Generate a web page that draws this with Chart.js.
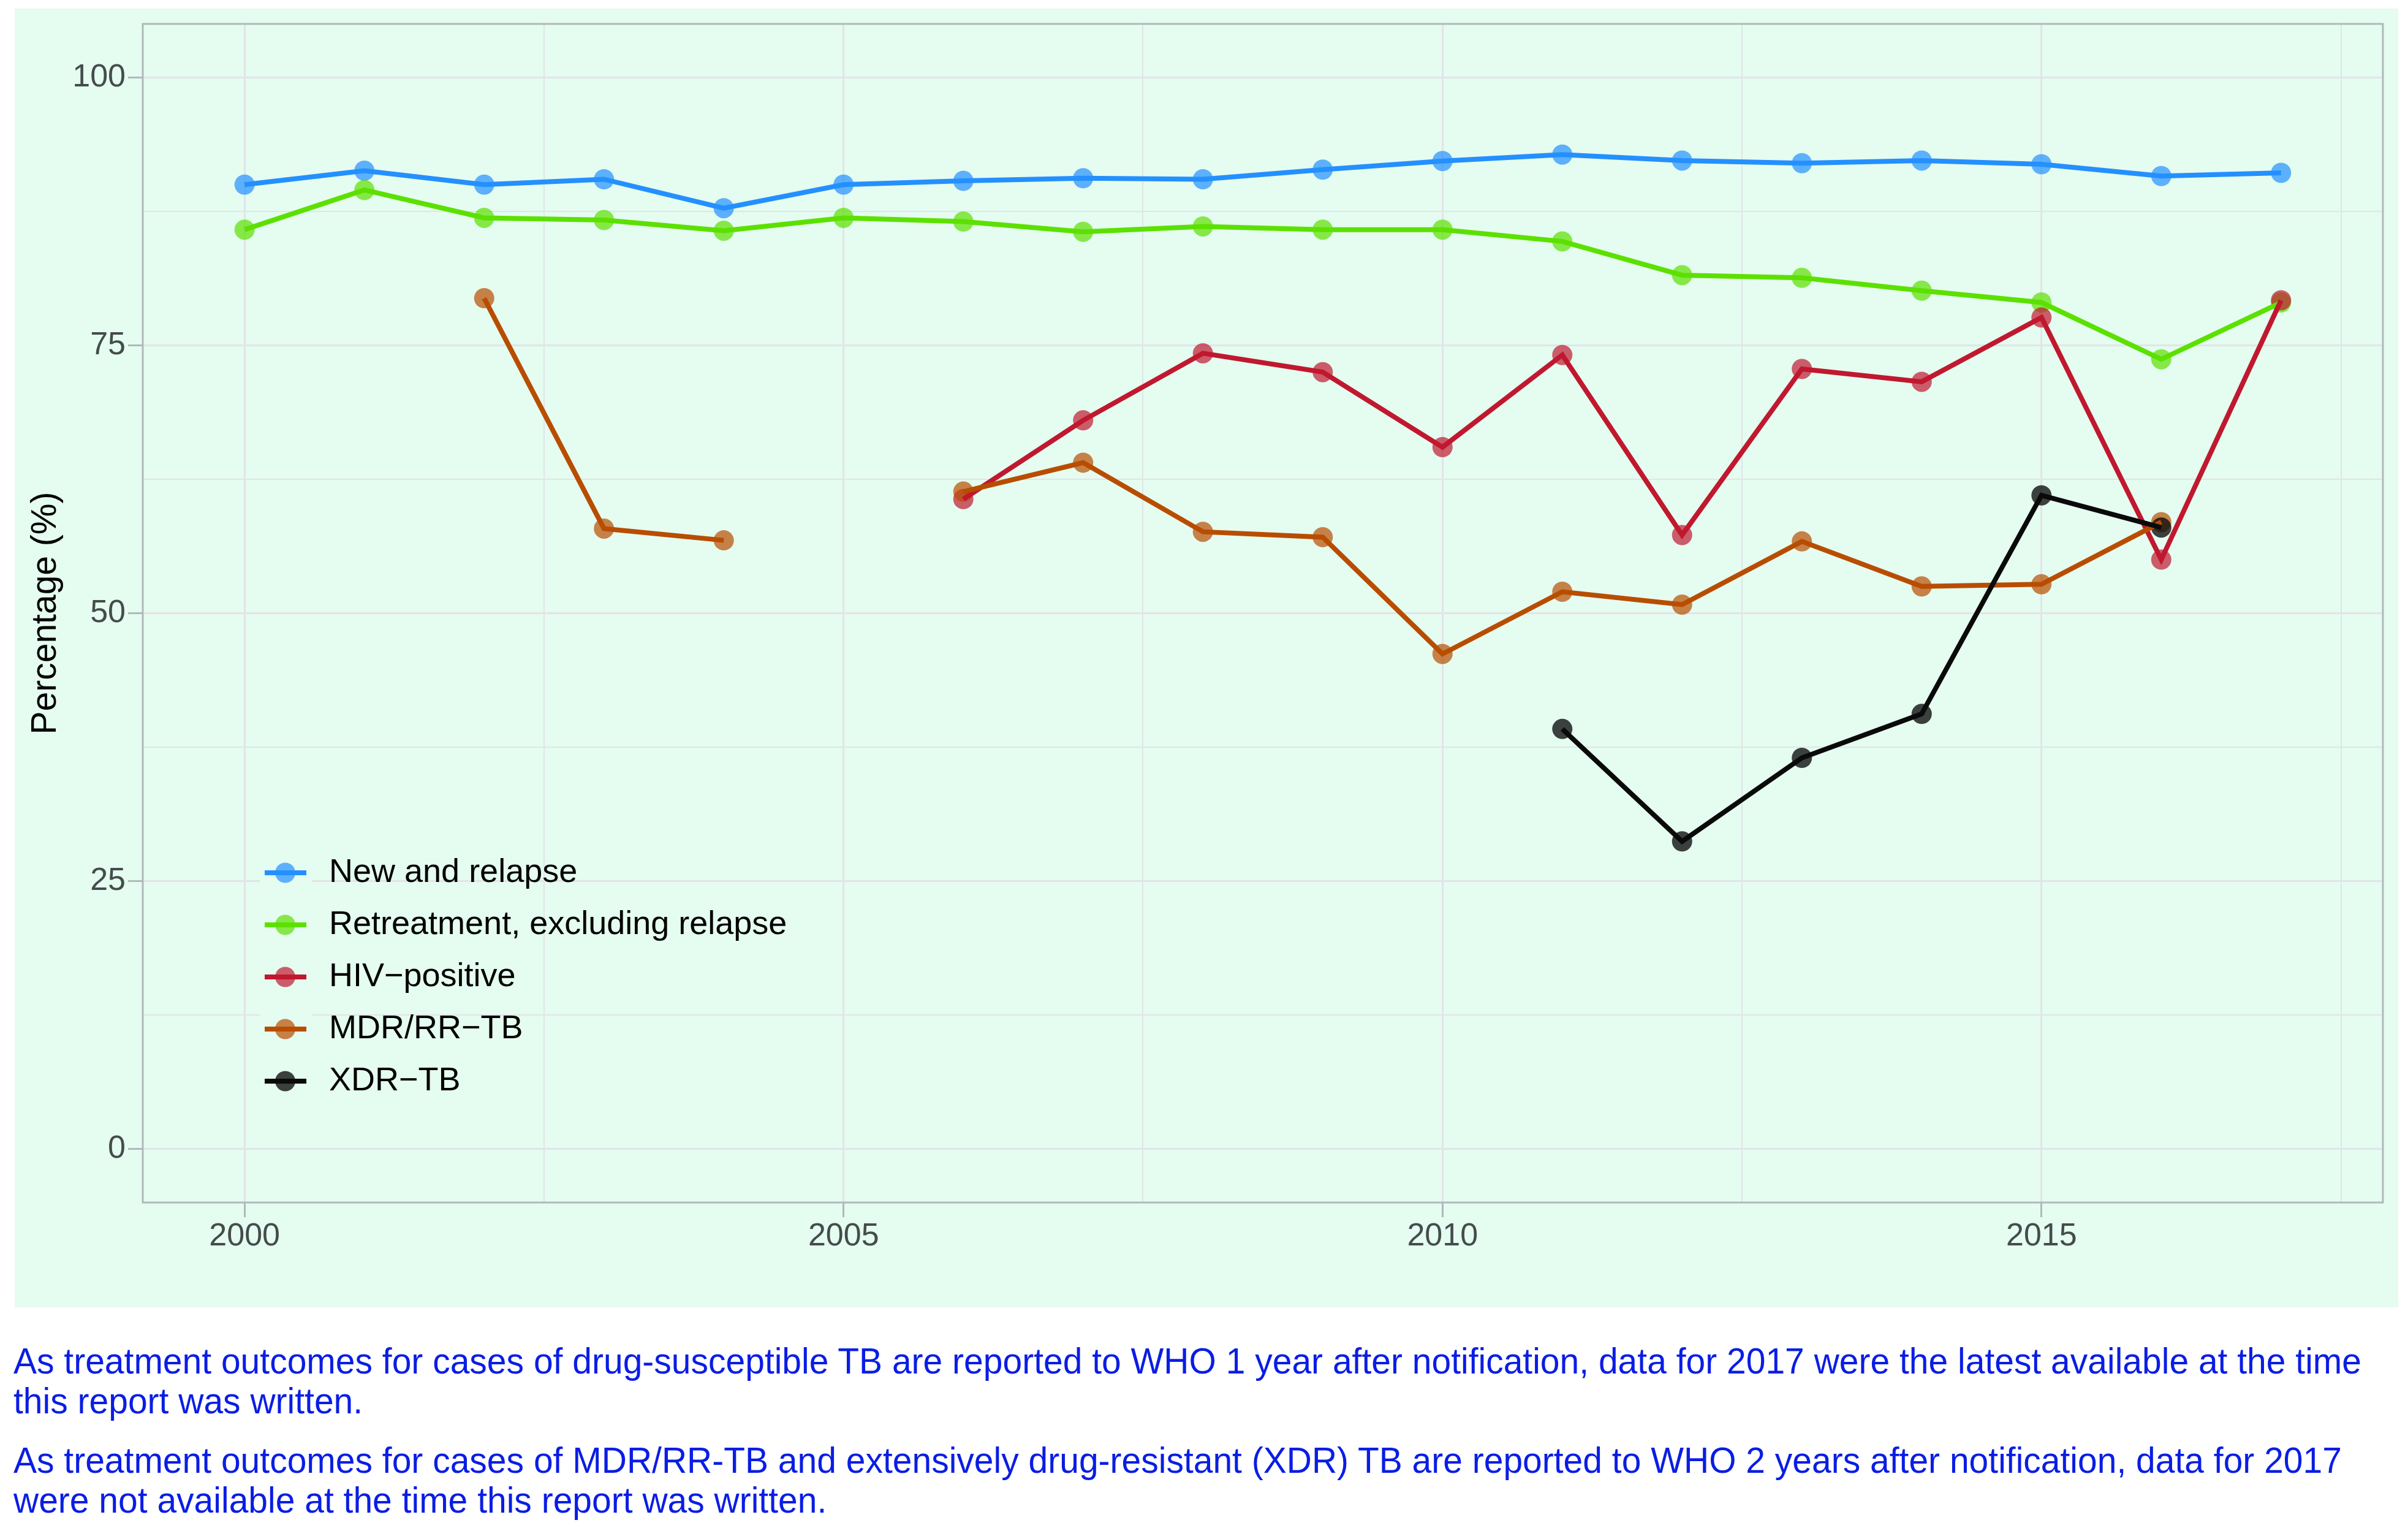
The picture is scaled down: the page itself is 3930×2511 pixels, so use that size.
<!DOCTYPE html>
<html>
<head>
<meta charset="utf-8">
<script src="https://cdn.jsdelivr.net/npm/chart.js@4/dist/chart.umd.min.js"></script>
<style>
  html, body { margin: 0; padding: 0; background: #ffffff; }
  #wrap { position: relative; width: 3930px; height: 2511px; }
  #chart { position: absolute; left: 0; top: 0; }
  #notes {
    position: absolute; left: 22px; top: 2189px;
    font-family: "Liberation Sans", Arial, sans-serif;
    font-size: 59px; line-height: 65px; color: #0a1de4; white-space: nowrap;
  }
  #notes p { margin: 0 0 32px 0; }
  #notes span { display: inline-block; transform-origin: 0 50%; }
</style>
</head>
<body>
<div id="wrap">
  <canvas id="chart" width="3930" height="2150"></canvas>
  <div id="notes">
    <p><span>As treatment outcomes for cases of drug-susceptible TB are reported to WHO 1 year after notification, data for 2017 were the latest available at the time</span><br><span>this report was written.</span></p>
    <p><span>As treatment outcomes for cases of MDR/RR-TB and extensively drug-resistant (XDR) TB are reported to WHO 2 years after notification, data for 2017</span><br><span>were not available at the time this report was written.</span></p>
  </div>
</div>
<script>
// données
const years = [2000, 2001, 2002, 2003, 2004, 2005, 2006, 2007, 2008, 2009, 2010, 2011, 2012, 2013, 2014, 2015, 2016, 2017];
const newRelapse = [90.0, 91.3, 90.0, 90.5, 87.8, 90.0, 90.35, 90.6, 90.5, 91.4, 92.2, 92.8, 92.25, 92.0, 92.25, 91.9, 90.8, 91.1];
const retreatment = [85.8, 89.5, 86.9, 86.7, 85.7, 86.9, 86.55, 85.6, 86.1, 85.8, 85.8, 84.7, 81.55, 81.3, 80.1, 79.0, 73.7, 79.0];
const hivPositive = [null, null, null, null, null, null, 60.65, 68.0, 74.26, 72.5, 65.5, 74.1, 57.3, 72.8, 71.6, 77.6, 55.0, 79.2];
const mdrRrTb = [null, null, 79.4, 57.9, 56.8, null, 61.35, 64.05, 57.6, 57.1, 46.2, 52.0, 50.8, 56.7, 52.5, 52.7, 58.5, null];
const xdrTb = [null, null, null, null, null, null, null, null, null, null, null, 39.2, 28.7, 36.5, 40.6, 61.0, 58.0, null];

const seriesNames = ["New and relapse", "Retreatment, excluding relapse", "HIV\u2212positive", "MDR/RR\u2212TB", "XDR\u2212TB"];
const seriesValues = [newRelapse, retreatment, hivPositive, mdrRrTb, xdrTb];
const lineColours = ["#2490ff", "#5ce000", "#c0182f", "#b84d00", "#0a0a0a"];
const pointColours = ["rgba(36,144,255,0.7)", "rgba(92,224,0,0.7)", "rgba(192,24,47,0.7)", "rgba(184,77,0,0.7)", "rgba(10,10,10,0.78)"];

const xTickLabels = [2000, 2005, 2010, 2015];
const xMinorTicks = [2002.5, 2007.5, 2012.5, 2017.5];
const yTickLabels = [0, 25, 50, 75, 100];
const yMinorTicks = [12.5, 37.5, 62.5, 87.5];

const MINT = "#e5fcf0";
const GRID = "#e2e4e8";
const FRAME = "#aebaba";

// les notes : police étroite dans l'original, on resserre la première ligne à sa largeur
const noteSpans = document.querySelectorAll("#notes span");
const squeeze = 3832 / noteSpans[0].getBoundingClientRect().width;
noteSpans.forEach(s => { s.style.transform = `scaleX(${squeeze})`; });

const toPoints = vals => years.map((y, i) => ({ x: y, y: vals[i] }));

// points d'abord (dessous), puis lignes par-dessus
const datasets = [];
seriesValues.forEach((vals, i) => {
    datasets.push({
        label: seriesNames[i] + " pts",
        data: toPoints(vals),
        showLine: false,
        pointRadius: 16.5,
        pointBackgroundColor: pointColours[i],
        pointBorderWidth: 0,
        order: 110 - i
    });
    datasets.push({
        label: seriesNames[i],
        data: toPoints(vals),
        borderColor: lineColours[i],
        borderWidth: 8,
        pointRadius: 0,
        spanGaps: false,
        fill: false,
        tension: 0,
        order: 10 - i
    });
});

const isMajor = (list, v) => list.some(t => Math.abs(t - v) < 1e-6);

// fond du graphique + cadre du panneau
const backdrop = {
    id: "backdrop",
    beforeDraw(chart) {
        const ctx = chart.ctx;
        ctx.save();
        ctx.fillStyle = MINT;
        ctx.fillRect(24, 14, 3890, 2119);
        ctx.restore();
    },
    afterDraw(chart) {
        const { ctx, chartArea: a } = chart;
        ctx.save();
        ctx.strokeStyle = FRAME;
        ctx.lineWidth = 3;
        ctx.strokeRect(a.left, a.top, a.right - a.left, a.bottom - a.top);
        ctx.restore();
    }
};

// légende dans le panneau, en bas à gauche
const insideLegend = {
    id: "insideLegend",
    afterDatasetsDraw(chart) {
        const ctx = chart.ctx;
        const x0 = 424, keyW = 85, rowH = 85, yFirst = 1424;
        ctx.save();
        ctx.fillStyle = MINT;
        ctx.fillRect(x0, yFirst - rowH / 2, keyW, rowH * seriesNames.length);
        seriesNames.forEach((name, i) => {
            const y = yFirst + i * rowH;
            ctx.beginPath();
            ctx.arc(x0 + keyW / 2 - 1, y, 16.5, 0, Math.PI * 2);
            ctx.fillStyle = pointColours[i];
            ctx.fill();
            ctx.beginPath();
            ctx.moveTo(x0 + 8, y);
            ctx.lineTo(x0 + keyW - 9, y);
            ctx.strokeStyle = lineColours[i];
            ctx.lineWidth = 8;
            ctx.stroke();
            ctx.fillStyle = "#000000";
            ctx.font = "54px 'Liberation Sans', Arial, sans-serif";
            ctx.textBaseline = "middle";
            ctx.fillText(name, 537, y);
        });
        ctx.restore();
    }
};

new Chart(document.getElementById("chart"), {
    type: "line",
    data: { datasets },
    options: {
        responsive: false,
        animation: false,
        layout: { padding: { left: 24, top: 39, right: 41, bottom: 38 } },
        plugins: { legend: { display: false }, tooltip: { enabled: false } },
        scales: {
            x: {
                type: "linear",
                min: 1999.15,
                max: 2017.85,
                afterBuildTicks: s => {
                    s.ticks = xTickLabels.concat(xMinorTicks).sort((a, b) => a - b).map(v => ({ value: v }));
                },
                afterFit: s => { s.height = 150; },
                border: { display: false },
                grid: {
                    color: GRID,
                    lineWidth: c => isMajor(xTickLabels, c.tick.value) ? 3 : 2,
                    tickColor: c => isMajor(xTickLabels, c.tick.value) ? FRAME : "rgba(0,0,0,0)",
                    tickLength: 24,
                    tickWidth: 3
                },
                ticks: {
                    autoSkip: false,
                    maxRotation: 0,
                    padding: 0,
                    color: "#444c4c",
                    font: { family: "'Liberation Sans', Arial, sans-serif", size: 52 },
                    callback: v => isMajor(xTickLabels, v) ? String(v) : ""
                }
            },
            y: {
                min: -5,
                max: 105,
                afterBuildTicks: s => {
                    s.ticks = yTickLabels.concat(yMinorTicks).sort((a, b) => a - b).map(v => ({ value: v }));
                },
                afterFit: s => { s.width = 209; },
                border: { display: false },
                grid: {
                    color: GRID,
                    lineWidth: c => isMajor(yTickLabels, c.tick.value) ? 3 : 2,
                    tickColor: c => isMajor(yTickLabels, c.tick.value) ? FRAME : "rgba(0,0,0,0)",
                    tickLength: 24,
                    tickWidth: 3
                },
                ticks: {
                    autoSkip: false,
                    padding: 4,
                    color: "#444c4c",
                    font: { family: "'Liberation Sans', Arial, sans-serif", size: 52 },
                    callback: v => isMajor(yTickLabels, v) ? String(v) : ""
                },
                title: {
                    display: true,
                    text: "Percentage (%)",
                    color: "#000000",
                    font: { family: "'Liberation Sans', Arial, sans-serif", size: 57 },
                    padding: { top: 17, bottom: 0 }
                }
            }
        }
    },
    plugins: [backdrop, insideLegend]
});
</script>
</body>
</html>
